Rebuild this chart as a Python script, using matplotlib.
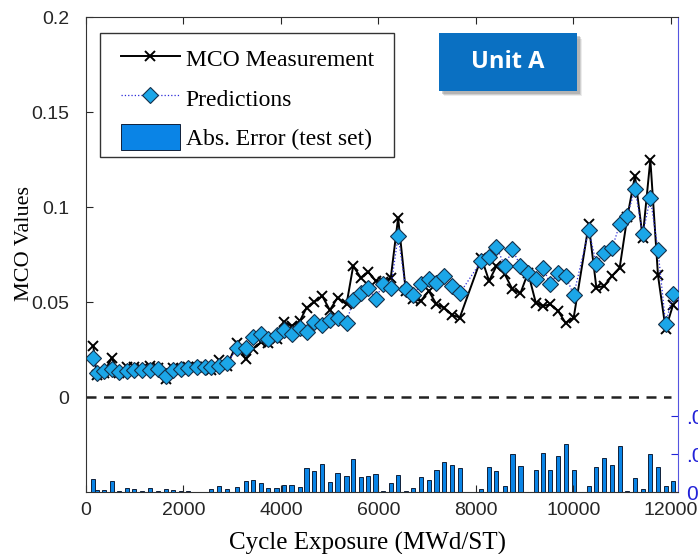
import matplotlib
matplotlib.use("Agg")
import matplotlib.pyplot as plt
from matplotlib.patches import Rectangle

# cycle exposure of each sample (MWd/ST)
exposure = [150, 219, 369, 527, 684, 834, 991, 1155, 1313, 1470,
            1634, 1791, 1949, 2099, 2270, 2441, 2564, 2735, 2886, 3104,
            3276, 3432, 3590, 3740, 3911, 4062, 4219, 4390, 4527, 4684,
            4848, 5005, 5163, 5347, 5484, 5641, 5791, 5943, 6099, 6256,
            6406, 6564, 6714, 6872, 7036, 7193, 7350, 7514, 7672, 8116,
            8273, 8424, 8595, 8753, 8917, 9073, 9231, 9381, 9532, 9689,
            9846, 10010, 10318, 10475, 10632, 10796, 10954, 11112, 11268, 11426,
            11583, 11740, 11897, 12047]

mco_measured = [0.0269, 0.0115, 0.0128, 0.0205, 0.0125, 0.0158, 0.0157, 0.0148, 0.0163, 0.0152,
                0.0096, 0.0153, 0.0150, 0.0156, 0.0156, 0.0156, 0.0141, 0.0196, 0.0161, 0.0284,
                0.0200, 0.0254, 0.0287, 0.0285, 0.0305, 0.0395, 0.0374, 0.0400, 0.0470, 0.0500,
                0.0532, 0.0457, 0.0523, 0.0488, 0.0689, 0.0628, 0.0658, 0.0613, 0.0605, 0.0628,
                0.0943, 0.0558, 0.0514, 0.0506, 0.0558, 0.0488, 0.0470, 0.0432, 0.0418, 0.0733,
                0.0611, 0.0689, 0.0646, 0.0567, 0.0546, 0.0655, 0.0497, 0.0479, 0.0488, 0.0453,
                0.0389, 0.0418, 0.0908, 0.0576, 0.0584, 0.0637, 0.0681, 0.0950, 0.1165, 0.0838,
                0.1250, 0.0640, 0.0357, 0.0483]

mco_predicted = [0.0203, 0.0126, 0.0138, 0.0147, 0.0130, 0.0138, 0.0142, 0.0143, 0.0142, 0.0147,
                 0.0112, 0.0143, 0.0147, 0.0152, 0.0156, 0.0156, 0.0156, 0.0164, 0.0177, 0.0256,
                 0.0260, 0.0317, 0.0334, 0.0305, 0.0326, 0.0352, 0.0331, 0.0361, 0.0343, 0.0395,
                 0.0378, 0.0404, 0.0418, 0.0392, 0.0511, 0.0550, 0.0572, 0.0518, 0.0593, 0.0576,
                 0.0847, 0.0567, 0.0536, 0.0593, 0.0620, 0.0599, 0.0637, 0.0584, 0.0546, 0.0716,
                 0.0737, 0.0791, 0.0689, 0.0777, 0.0689, 0.0651, 0.0620, 0.0681, 0.0593, 0.0655,
                 0.0637, 0.0537, 0.0877, 0.0702, 0.0760, 0.0782, 0.0908, 0.0955, 0.1096, 0.0856,
                 0.1048, 0.0773, 0.0383, 0.0541]

abs_error = [0.0068, 0.0011, 0.0011, 0.0058, 0.0005, 0.0021, 0.0016, 0.0005, 0.0021, 0.0005,
             0.0016, 0.0011, 0.0005, 0.0005, 0.0000, 0.0000, 0.0016, 0.0032, 0.0016, 0.0026,
             0.0058, 0.0063, 0.0047, 0.0021, 0.0021, 0.0037, 0.0037, 0.0026, 0.0126, 0.0111,
             0.0147, 0.0053, 0.0100, 0.0084, 0.0174, 0.0079, 0.0084, 0.0095, 0.0005, 0.0047,
             0.0090, 0.0005, 0.0021, 0.0079, 0.0063, 0.0116, 0.0158, 0.0142, 0.0126, 0.0016,
             0.0132, 0.0111, 0.0032, 0.0200, 0.0137, 0.0000, 0.0116, 0.0205, 0.0116, 0.0189,
             0.0253, 0.0116, 0.0032, 0.0132, 0.0179, 0.0142, 0.0242, 0.0005, 0.0074, 0.0016,
             0.0200, 0.0132, 0.0032, 0.0058]

plt.rcParams['font.family'] = ['Liberation Sans', 'DejaVu Sans']

fig = plt.figure(figsize=(6.98, 5.54), dpi=100)
ax = fig.add_axes([0.1232, 0.1119, 0.8481, 0.8574])
ax2 = ax.twinx()

# error bars on the right axis, drawn behind the lines
ax2.bar(exposure, abs_error, width=85, color='#0A84E6', edgecolor='#10203A',
        linewidth=0.7, label='Abs. Error (test set)')
ax2.set_ylim(0, 0.25)
ax2.set_yticks([0, 0.02, 0.04])
ax2.set_yticklabels(['0', '.02', '.04'])
ax2.tick_params(axis='y', direction='in', colors='#2222D8', labelsize=15, pad=6, length=5)
ax2.spines['right'].set_color('#5555E0')
for s in ['left', 'top', 'bottom']:
    ax2.spines[s].set_visible(False)

ax.set_zorder(ax2.get_zorder() + 1)
ax.patch.set_visible(False)

ax.plot([0, 12000], [0, 0], ls=(0, (4, 3)), color='#222222', lw=1.8)
ax.plot(exposure, mco_measured, '-x', color='black', lw=1.4, ms=7.5, mew=1.4,
        label='MCO Measurement')
ax.plot(exposure, mco_predicted, ':D', color='#2B2BD8', lw=0.9, ms=8,
        mfc='#1BA6E8', mec='#14304A', mew=0.8, label='Predictions')

ax.set_xlim(0, 12150)
ax.set_ylim(-0.05, 0.2)
ax.set_xticks([0, 2000, 4000, 6000, 8000, 10000, 12000])
ax.set_yticks([0, 0.05, 0.1, 0.15, 0.2])
ax.set_yticklabels(['0', '0.05', '0.1', '0.15', '0.2'])
ax.tick_params(direction='in', top=True, labelsize=14, length=5, colors='#262626')
ax.tick_params(axis='y', pad=12)
ax.tick_params(axis='x', pad=7)
for s in ['left', 'top', 'bottom']:
    ax.spines[s].set_color('#333333')
ax.spines['right'].set_visible(False)

ax.set_xlabel('Cycle Exposure (MWd/ST)', family='Liberation Serif', fontsize=18, va='top')
ax.xaxis.set_label_coords(0.476, -0.085)
ax.set_ylabel('MCO Values', family='Liberation Serif', fontsize=16)
ax.yaxis.set_label_coords(-0.088, 0.523)

# legend: frame drawn by hand so the left padding can be wider than the top one
h1, l1 = ax.get_legend_handles_labels()
h2, l2 = ax2.get_legend_handles_labels()
leg = ax.legend(h1 + h2, l1 + l2, loc='upper left', bbox_to_anchor=(0.059, 0.940),
                borderaxespad=0, frameon=False,
                prop={'family': 'Liberation Serif', 'size': 17}, handlelength=2.5,
                handleheight=1.3, handletextpad=0.25, labelspacing=0.57, borderpad=0)
ax.add_patch(Rectangle((0.0236, 0.705), 0.4966, 0.261, transform=ax.transAxes,
                       facecolor='white', edgecolor='#333333', lw=1.0, zorder=4))
leg.set_zorder(5)

# "Unit A" tag with a soft shadow
for off, a in [(0.009, 0.15), (0.007, 0.25), (0.005, 0.35)]:
    ax.add_patch(Rectangle((0.596 + off, 0.844 - off * 1.25), 0.233, 0.122,
                           transform=ax.transAxes, color='#808080', alpha=a,
                           zorder=5, lw=0))
ax.add_patch(Rectangle((0.596, 0.844), 0.233, 0.122, transform=ax.transAxes,
                       color='#0A70C2', zorder=6, lw=0))
ax.text(0.7125, 0.905, 'Unit A', transform=ax.transAxes, ha='center', va='center',
        color='white', fontsize=17, fontweight='bold', family='Open Sans', zorder=7)

fig.savefig('out.png', dpi=100)
